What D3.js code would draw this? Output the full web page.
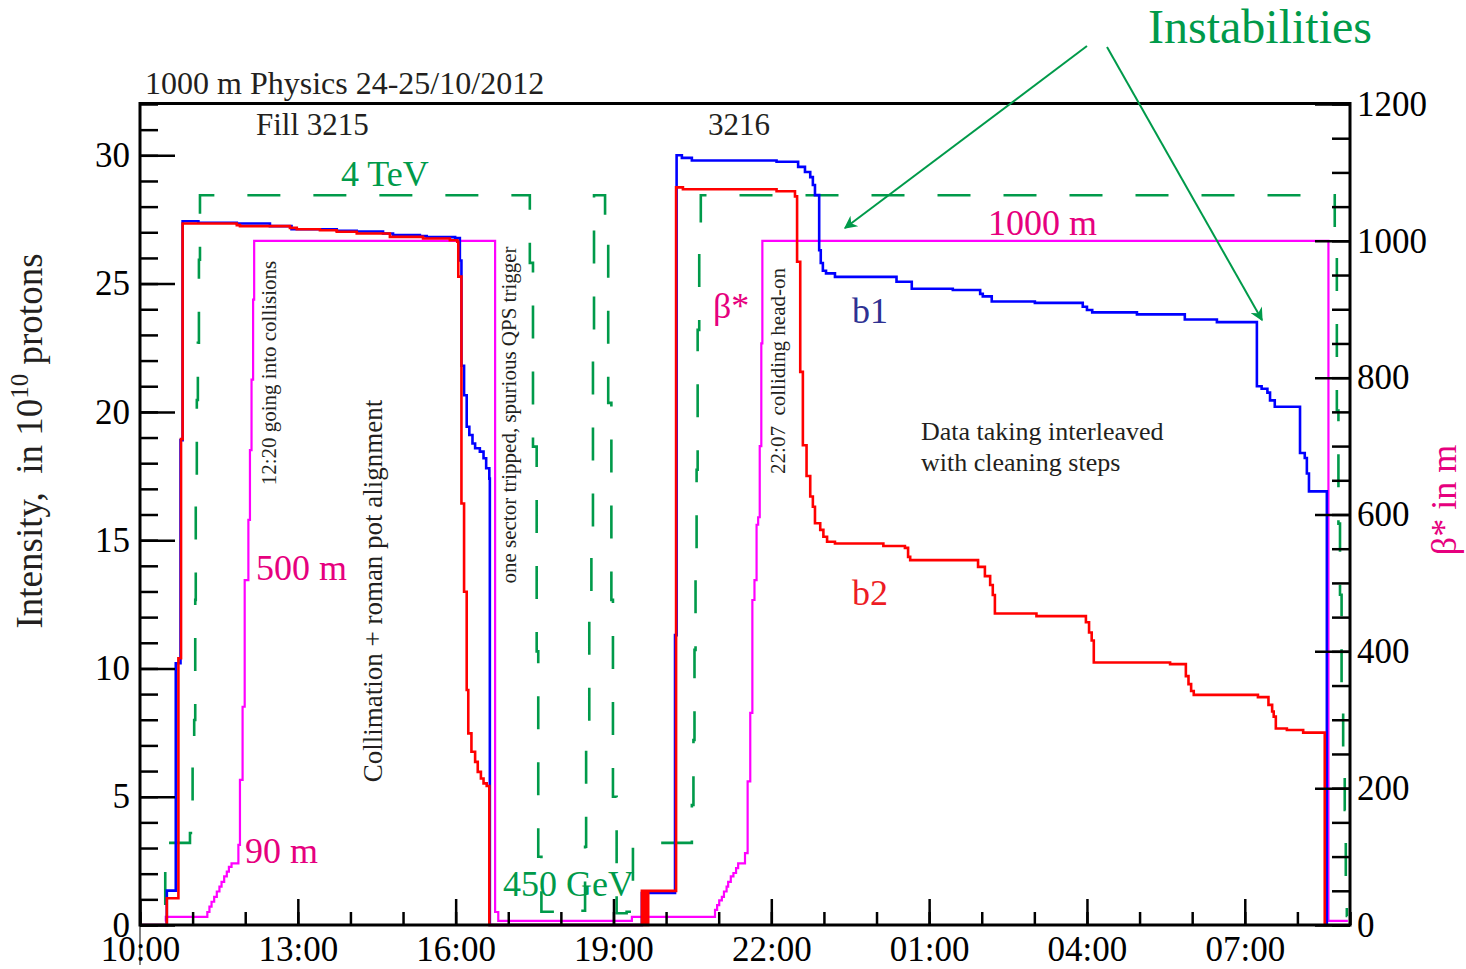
<!DOCTYPE html>
<html>
<head>
<meta charset="utf-8">
<script src="https://cdn.jsdelivr.net/npm/d3@7"></script>
<style>
  body { margin: 0; background: #fff; }
  svg text { font-family: "Liberation Serif", "DejaVu Serif", serif; white-space: pre; }
</style>
</head>
<body>
<div id="main"></div>
<script>
// times are hours after midnight 24/10/2012 (values above 24 are on the 25th)

// beam 1 intensity, 10^10 protons
const b1Time = [10.00, 10.51, 10.68, 10.77, 10.81, 11.11, 11.84, 12.47, 12.88, 13.74,
                14.12, 14.62, 14.81, 15.32, 15.45, 15.99, 16.08, 16.11, 16.16, 16.21,
                16.26, 16.32, 16.37, 16.46, 16.53, 16.58, 16.64, 16.65, 19.54, 20.17,
                20.20, 20.30, 20.49, 22.10, 22.51, 22.64, 22.74, 22.79, 22.83, 22.91,
                22.94, 22.98, 23.04, 23.21, 24.38, 24.67, 25.45, 25.97, 26.02, 26.19,
                27.01, 27.92, 28.00, 28.10, 28.95, 29.86, 30.47, 31.23, 31.32, 31.43,
                31.48, 31.57, 32.05, 32.14, 32.18, 32.22, 32.56];
const b1Intensity = [0, 1.34, 10.2, 18.9, 27.43, 27.37, 27.34, 27.24, 27.12, 27.06,
                27.03, 26.95, 26.89, 26.85, 26.81, 26.78, 25.9, 21.8, 20.65, 19.42,
                19.1, 18.77, 18.58, 18.45, 18.19, 17.8, 17.4, 0, 1.25, 11.3,
                30.0, 29.9, 29.8, 29.75, 29.55, 29.35, 29.15, 28.84, 28.45, 26.3,
                25.8, 25.5, 25.4, 25.26, 25.07, 24.8, 24.75, 24.6, 24.5, 24.3,
                24.25, 24.1, 23.97, 23.88, 23.8, 23.6, 23.5, 21.0, 20.9, 20.75,
                20.45, 20.2, 18.4, 18.2, 17.6, 16.9, 0];

// beam 2 intensity, 10^10 protons
const b2Time = [10.00, 10.51, 10.73, 10.78, 10.81, 11.84, 11.90, 12.85, 12.98, 13.42,
                13.74, 14.12, 14.75, 15.38, 15.89, 16.03, 16.05, 16.11, 16.16, 16.21,
                16.24, 16.30, 16.37, 16.42, 16.48, 16.53, 16.59, 16.64, 19.54, 19.555,
                19.57, 19.585, 19.60, 19.615, 19.63, 19.645, 19.66, 20.19, 20.32, 22.10,
                22.45, 22.49, 22.55, 22.60, 22.67, 22.74, 22.79, 22.83, 22.93, 22.99,
                23.06, 23.21, 24.13, 24.54, 24.60, 24.64, 25.93, 26.06, 26.16, 26.21,
                26.25, 27.04, 27.98, 28.04, 28.09, 28.13, 29.58, 29.88, 29.93, 29.98,
                30.03, 31.25, 31.45, 31.52, 31.55, 31.59, 31.80, 32.11, 32.52, 32.56];
const b2Intensity = [0, 1.04, 10.4, 18.94, 27.34, 27.28, 27.24, 27.17, 27.12, 27.08,
                27.02, 26.95, 26.82, 26.76, 26.69, 26.63, 25.27, 16.43, 12.99, 9.16,
                7.47, 6.75, 6.36, 5.97, 5.71, 5.52, 5.42, 0, 1.33, 0,
                1.33, 0, 1.33, 0, 1.33, 0, 1.33, 28.75, 28.68, 28.6,
                28.4, 25.85, 21.56, 18.7, 17.5, 16.7, 16.3, 15.66, 15.4, 15.13,
                14.94, 14.87, 14.77, 14.7, 14.35, 14.22, 13.96, 13.6, 13.25, 12.86,
                12.14, 12.04, 11.8, 11.4, 11.09, 10.23, 10.17, 9.7, 9.39, 9.12,
                8.97, 8.88, 8.58, 8.32, 8.12, 7.66, 7.6, 7.5, 0, 0];

// beta* in m
const betaTime = [10.48, 10.49, 11.28, 11.32, 11.36, 11.41, 11.46, 11.51, 11.55, 11.60,
                  11.65, 11.69, 11.74, 11.87, 11.90, 11.95, 11.99, 12.06, 12.09, 12.12,
                  12.15, 12.17, 16.75, 16.81, 19.35, 20.93, 20.97, 21.01, 21.06, 21.10,
                  21.15, 21.18, 21.23, 21.28, 21.33, 21.37, 21.50, 21.55, 21.60, 21.64,
                  21.68, 21.72, 21.75, 21.78, 21.81, 21.83, 32.59, 32.96];
const betaValue = [5, 12, 19, 27, 34, 41, 49, 56, 63, 71,
                   78, 85, 90, 117, 212, 319, 504, 592, 694, 797,
                   914, 1000, 19, 6, 12, 22, 29, 36, 41, 49,
                   56, 63, 71, 76, 83, 90, 105, 210, 310, 475,
                   504, 585, 596, 700, 850, 1000, 6, 6];

// beam energy in GeV
const energyTime = [10.46, 10.48, 10.95, 11.00, 11.03, 11.05, 11.06, 11.08, 11.10, 11.12,
                    11.14, 17.41, 17.47, 17.54, 17.57, 17.63, 17.98, 18.08, 18.46, 18.48,
                    18.54, 18.58, 18.61, 18.63, 18.84, 18.90, 18.96, 18.99, 19.06, 19.25,
                    19.37, 20.49, 20.52, 20.54, 20.56, 20.58, 20.60, 20.63, 20.66, 32.71,
                    32.75, 32.78, 32.81, 32.84, 32.87, 32.90, 32.92, 32.94, 32.95];
const energyValue = [60, 450, 504, 905, 1124, 1782, 2330, 2878, 3191, 3646,
                     4000, 3629, 2622, 1500, 374, 73, 60, 78, 429, 1053,
                     1670, 2122, 3198, 4000, 3865, 2862, 1782, 703, 64, 73,
                     450, 658, 1014, 1508, 2001, 2495, 3262, 3700, 4000, 3800,
                     2820, 2200, 1810, 1300, 855, 630, 230, 50, 50];

const leftTicks = [0, 5, 10, 15, 20, 25, 30];
const rightTicks = [0, 200, 400, 600, 800, 1000, 1200];
const timeTicks = [10, 13, 16, 19, 22, 25, 28, 31];

const width = 1466, height = 969;
const margin = { top: 104, bottom: 44, left: 140, right: 116 };
const plotW = width - margin.left - margin.right;
const plotH = height - margin.top - margin.bottom;
const bottomY = margin.top + plotH;

const green = '#009a4a', pink = '#e6007e', ink = '#231f20';

const hour = h => new Date(Date.UTC(2012, 9, 24) + h * 3600e3);
const zip = (t, v) => t.map((d, i) => [d, v[i]]);

const svg = d3.select('#main').append('svg').attr('width', width).attr('height', height);

const xScale = d3.scaleUtc().domain([hour(10), hour(33)]).range([margin.left, margin.left + plotW]);
const yLeft = d3.scaleLinear().domain([0, 32]).range([bottomY, margin.top]);
const yRight = d3.scaleLinear().domain([0, 1200]).range([bottomY, margin.top]);
const yEnergy = d3.scaleLinear().domain([0, 4500]).range([bottomY, margin.top]);

function stepLine(y) {
    return d3.line().x(d => xScale(hour(d[0]))).y(d => y(d[1])).curve(d3.curveStepAfter);
}

// arrow head
svg.append('defs').append('marker')
    .attr('id', 'arrow')
    .attr('viewBox', '0 0 10 10')
    .attr('refX', 9).attr('refY', 5)
    .attr('markerWidth', 9).attr('markerHeight', 6.5)
    .attr('markerUnits', 'strokeWidth')
    .attr('orient', 'auto')
    .append('path')
    .attr('d', 'M0,0 L10,5 L0,10 L3,5 Z')
    .attr('fill', green);

// curves
svg.append('path').datum(zip(energyTime, energyValue))
    .attr('d', stepLine(yEnergy))
    .attr('fill', 'none').attr('stroke', green).attr('stroke-width', 2.6)
    .attr('stroke-dasharray', '33,33')
    .attr('stroke-dashoffset', 56);

svg.append('path').datum(zip(betaTime, betaValue))
    .attr('d', stepLine(yRight))
    .attr('fill', 'none').attr('stroke', '#ff00ff').attr('stroke-width', 2.2);

svg.append('path').datum(zip(b1Time, b1Intensity))
    .attr('d', stepLine(yLeft))
    .attr('fill', 'none').attr('stroke', '#0000ff').attr('stroke-width', 2.6);

svg.append('path').datum(zip(b2Time, b2Intensity))
    .attr('d', stepLine(yLeft))
    .attr('fill', 'none').attr('stroke', '#ff0000').attr('stroke-width', 2.6);

// axes
function styleAxis(g) {
    g.select('.domain').remove();
    g.selectAll('line').attr('stroke', '#000').attr('stroke-width', 2.5);
    g.selectAll('text').attr('fill', '#000').style('font-size', '35px')
        .style('font-family', '"Liberation Serif", serif');
}

svg.append('g').attr('transform', `translate(${margin.left},0)`)
    .call(d3.axisLeft(yLeft).tickValues(d3.range(0, 33)).tickSize(-18).tickFormat(''))
    .call(styleAxis);
svg.append('g').attr('transform', `translate(${margin.left},0)`)
    .call(d3.axisLeft(yLeft).tickValues(leftTicks).tickSize(-35).tickPadding(10))
    .call(styleAxis);

svg.append('g').attr('transform', `translate(${margin.left + plotW},0)`)
    .call(d3.axisRight(yRight).tickValues(d3.range(0, 1201, 50)).tickSize(-18).tickFormat(''))
    .call(styleAxis);
svg.append('g').attr('transform', `translate(${margin.left + plotW},0)`)
    .call(d3.axisRight(yRight).tickValues(rightTicks).tickSize(-35).tickPadding(7)
        .tickFormat(d3.format('d')))
    .call(styleAxis);

svg.append('g').attr('transform', `translate(0,${bottomY})`)
    .call(d3.axisBottom(xScale).tickValues(d3.range(10, 34).map(hour)).tickSize(-13).tickFormat(''))
    .call(styleAxis);
svg.append('g').attr('transform', `translate(0,${bottomY})`)
    .call(d3.axisBottom(xScale).tickValues(timeTicks.map(hour)).tickSize(-26).tickPadding(11)
        .tickFormat(d3.utcFormat('%H:%M')))
    .call(styleAxis);

// frame
svg.append('rect')
    .attr('x', margin.left).attr('y', margin.top - 0.5)
    .attr('width', plotW).attr('height', plotH + 0.5)
    .attr('fill', 'none').attr('stroke', '#000').attr('stroke-width', 3);
svg.append('line')
    .attr('x1', margin.left).attr('x2', margin.left)
    .attr('y1', bottomY).attr('y2', bottomY + 40)
    .attr('stroke', '#000').attr('stroke-width', 1);

// axis titles
svg.append('text')
    .attr('transform', `translate(42,441) rotate(-90)`)
    .attr('text-anchor', 'middle')
    .style('font-size', '37px').attr('fill', ink)
    .call(t => {
        t.append('tspan').text('Intensity,  in 10');
        t.append('tspan').attr('dy', -14).style('font-size', '25px').text('10');
        t.append('tspan').attr('dy', 14).text(' protons');
    });

svg.append('text')
    .attr('transform', `translate(1456,500) rotate(-90)`)
    .attr('text-anchor', 'middle')
    .style('font-size', '36px').attr('fill', pink)
    .text('β* in m');

// labels
const labels = [
    { text: '1000 m Physics 24-25/10/2012', x: 145, y: 94, size: 32, color: ink },
    { text: 'Fill 3215', x: 256, y: 135, size: 31, color: ink },
    { text: '3216', x: 708, y: 135, size: 31, color: ink },
    { text: '4 TeV', x: 341, y: 186, size: 36, color: green },
    { text: 'Instabilities', x: 1148, y: 43, size: 48, color: green },
    { text: '1000 m', x: 988, y: 235, size: 36, color: pink },
    { text: 'β*', x: 713, y: 318, size: 36, color: pink },
    { text: 'b1', x: 852, y: 323, size: 36, color: '#2e3192' },
    { text: 'b2', x: 852, y: 605, size: 36, color: '#ed1c24' },
    { text: '500 m', x: 256, y: 580, size: 36, color: pink },
    { text: '90 m', x: 245, y: 863, size: 36, color: pink },
    { text: '450 GeV', x: 503, y: 896, size: 36, color: green },
    { text: 'Data taking interleaved', x: 921, y: 440, size: 26, color: ink },
    { text: 'with cleaning steps', x: 921, y: 471, size: 26, color: ink }
];

svg.selectAll('.label')
    .data(labels)
    .enter()
    .append('text')
    .attr('class', 'label')
    .attr('x', d => d.x)
    .attr('y', d => d.y)
    .style('font-size', d => d.size + 'px')
    .attr('fill', d => d.color)
    .text(d => d.text);

const vertical = [
    { text: '12:20 going into collisions', x: 276, y: 373, size: 21 },
    { text: 'Collimation + roman pot alignment', x: 382, y: 591, size: 27 },
    { text: 'one sector tripped, spurious QPS trigger', x: 516, y: 415, size: 21 },
    { text: '22:07  colliding head-on', x: 785, y: 371, size: 21 }
];

svg.selectAll('.vlabel')
    .data(vertical)
    .enter()
    .append('text')
    .attr('class', 'vlabel')
    .attr('transform', d => `translate(${d.x},${d.y}) rotate(-90)`)
    .attr('text-anchor', 'middle')
    .style('font-size', d => d.size + 'px')
    .attr('fill', ink)
    .text(d => d.text);

// arrows
const arrows = [
    { x1: 1087, y1: 46, x2: 845, y2: 228 },
    { x1: 1107, y1: 47, x2: 1262, y2: 320 }
];

svg.selectAll('.arrow')
    .data(arrows)
    .enter()
    .append('line')
    .attr('class', 'arrow')
    .attr('x1', d => d.x1).attr('y1', d => d.y1)
    .attr('x2', d => d.x2).attr('y2', d => d.y2)
    .attr('stroke', green).attr('stroke-width', 2)
    .attr('marker-end', 'url(#arrow)');
</script>
</body>
</html>
